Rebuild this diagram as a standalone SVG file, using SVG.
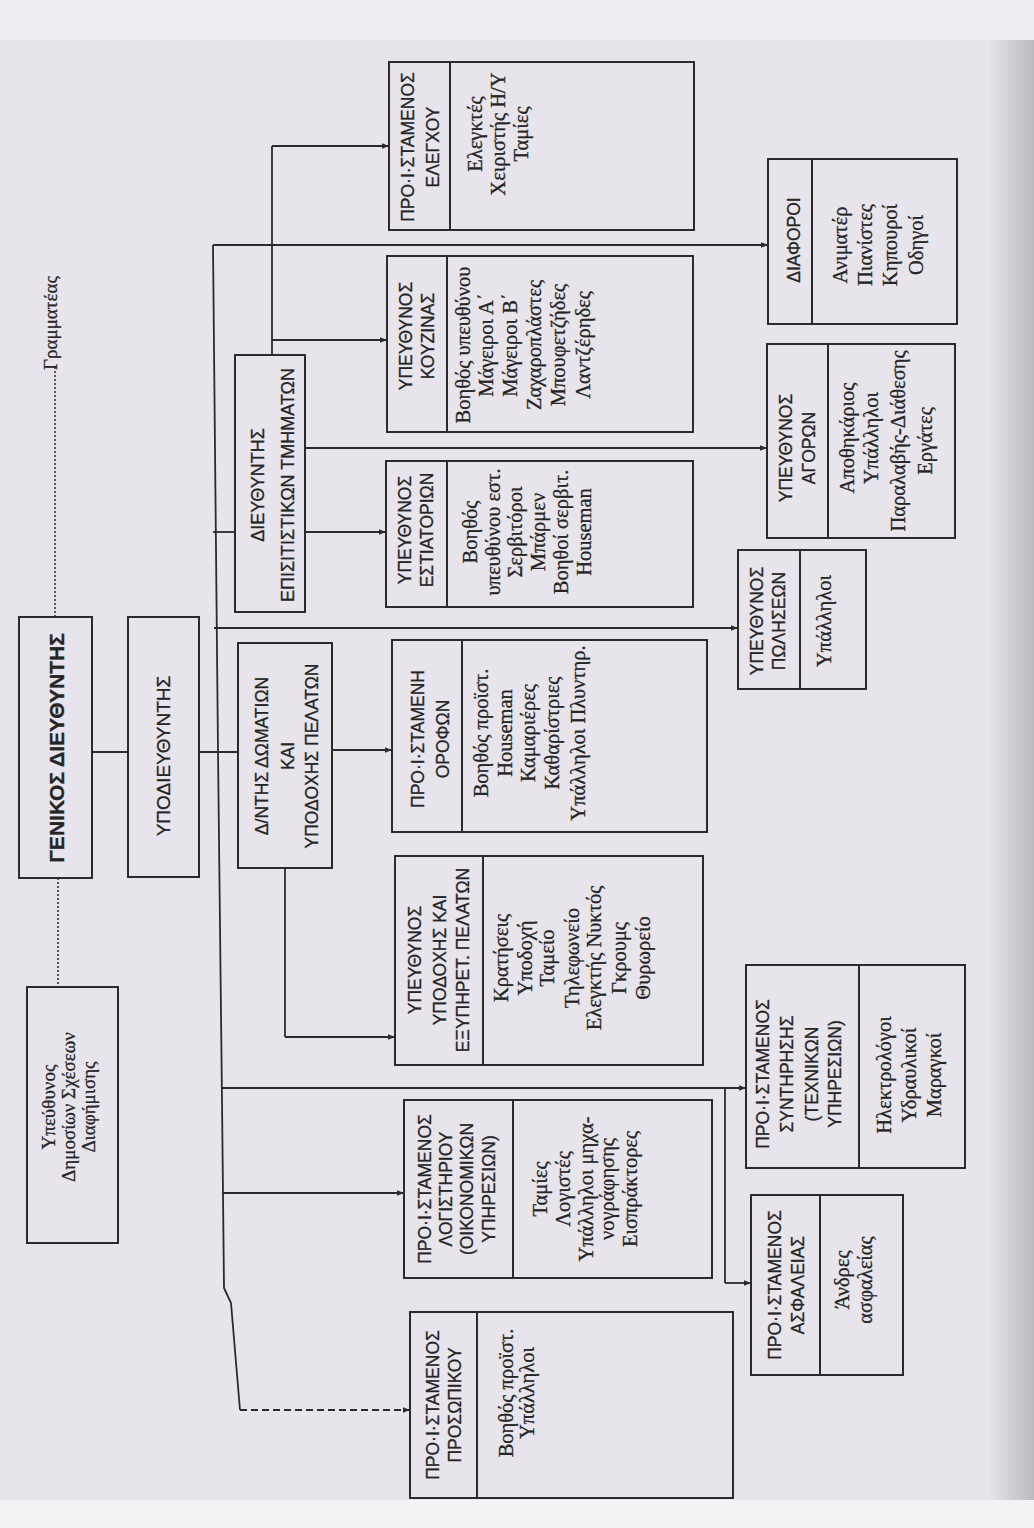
<svg xmlns="http://www.w3.org/2000/svg" width="1034" height="1528" viewBox="0 0 1034 1528">
<defs>
<marker id="ah" viewBox="0 0 10 10" refX="10" refY="5" markerWidth="9" markerHeight="7" orient="auto" markerUnits="userSpaceOnUse"><path d="M0,1 L10,5 L0,9 z" fill="#2b2b2b"/></marker>
<linearGradient id="edge" x1="0" y1="0" x2="1" y2="0"><stop offset="0" stop-color="#e6e2ea"/><stop offset="1" stop-color="#bdb9c0"/></linearGradient>
</defs>
<style>
.box{fill:none;stroke:#2b2b2b;stroke-width:2}
.div{stroke:#2b2b2b;stroke-width:2}
.h{font-family:"Liberation Sans",Arial,sans-serif;font-size:17.5px;fill:#252525;stroke:#252525;stroke-width:0.3;text-anchor:middle;dominant-baseline:central}
.b{font-family:"Liberation Serif","Times New Roman",serif;font-size:20.5px;fill:#252525;stroke:#252525;stroke-width:0.3;text-anchor:middle;dominant-baseline:central}
.c{fill:none;stroke:#2b2b2b;stroke-width:1.8}
.ca{fill:none;stroke:#2b2b2b;stroke-width:1.8;marker-end:url(#ah)}
.dot{fill:none;stroke:#333;stroke-width:1.6;stroke-dasharray:2 2}
.dash{fill:none;stroke:#2b2b2b;stroke-width:1.8;stroke-dasharray:7 4;marker-end:url(#ah)}
</style>
<rect x="0" y="0" width="1034" height="1528" fill="#e8e4ec"/>
<rect x="990" y="0" width="44" height="1528" fill="url(#edge)"/>
<rect x="0" y="0" width="1034" height="40" fill="#f1eef3"/>
<rect x="0" y="1500" width="1034" height="28" fill="#f4f2f5"/>

<g id="connectors">
  <path class="dot" d="M55,367 L55,617"/>
  <path class="dot" d="M58,878 L58,987"/>
  <path class="c" d="M92,752 L128,752"/>
  <path class="c" d="M199,752 L238,752"/>
  <path class="c" d="M213,245 L218,752 L222,1100 L224,1288 L231,1303 L240,1410"/>
  <path class="dash" d="M240,1410 L410,1410"/>
  <path class="ca" d="M213,245 L768,245"/>
  <path class="c" d="M213,532 L235,532"/>
  <path class="ca" d="M305,532 L386,532"/>
  <path class="c" d="M272,355 L272,146"/>
  <path class="ca" d="M272,146 L389,146"/>
  <path class="ca" d="M272,340 L387,340"/>
  <path class="ca" d="M305,448 L767,448"/>
  <path class="ca" d="M214,628 L738,628"/>
  <path class="ca" d="M332,750 L392,750"/>
  <path class="c" d="M285,868 L285,1037"/>
  <path class="ca" d="M285,1037 L395,1037"/>
  <path class="ca" d="M222,1088 L746,1088"/>
  <path class="c" d="M725,1088 L725,1283"/>
  <path class="ca" d="M725,1283 L751,1283"/>
  <path class="ca" d="M223,1193 L404,1193"/>
</g>

<g id="secretary">
  <text class="b" transform="translate(50,323) rotate(-90)" style="font-size:19px">Γραμματέας</text>
</g>

<g id="n-general" transform="translate(19,878) rotate(-90)">
  <rect class="box" x="0" y="0" width="261" height="73"/>
  <text class="h" x="130" y="37" style="font-size:21px;font-weight:bold">ΓΕΝΙΚΟΣ ΔΙΕΥΘΥΝΤΗΣ</text>
</g>

<g id="n-deputy" transform="translate(128,877) rotate(-90)">
  <rect class="box" x="0" y="0" width="260" height="71"/>
  <text class="h" x="121" y="35" style="font-size:19px">ΥΠΟΔΙΕΥΘΥΝΤΗΣ</text>
</g>

<g id="n-pr" transform="translate(27,1243) rotate(-90)">
  <rect class="box" x="0" y="0" width="256" height="91"/>
  <text class="b" x="136" y="21" style="font-size:19px">Υπεύθυνος</text>
  <text class="b" x="136" y="41" style="font-size:19px">Δημοσίων Σχέσεων</text>
  <text class="b" x="136" y="61" style="font-size:19px">Διαφήμισης</text>
</g>

<g id="n-fb" transform="translate(235,612) rotate(-90)">
  <rect class="box" x="0" y="0" width="257" height="70"/>
  <text class="h" x="127" y="23" style="font-size:18px">ΔΙΕΥΘΥΝΤΗΣ</text>
  <text class="h" x="127" y="53" style="font-size:18px">ΕΠΙΣΙΤΙΣΤΙΚΩΝ ΤΜΗΜΑΤΩΝ</text>
</g>

<g id="n-rooms" transform="translate(238,868) rotate(-90)">
  <rect class="box" x="0" y="0" width="225" height="94"/>
  <text class="h" x="112" y="24">Δ/ΝΤΗΣ ΔΩΜΑΤΙΩΝ</text>
  <text class="h" x="112" y="50">ΚΑΙ</text>
  <text class="h" x="112" y="74">ΥΠΟΔΟΧΗΣ ΠΕΛΑΤΩΝ</text>
</g>

<g id="n-control" transform="translate(389,230) rotate(-90)">
  <rect class="box" x="0" y="0" width="168" height="305"/>
  <line class="div" x1="0" y1="61" x2="168" y2="61"/>
  <text class="h" x="83" y="19">ΠΡΟ·Ι·ΣΤΑΜΕΝΟΣ</text>
  <text class="h" x="83" y="44">ΕΛΕΓΧΟΥ</text>
  <text class="b" x="96" y="86">Ελεγκτές</text>
  <text class="b" x="96" y="109">Χειριστής Η/Υ</text>
  <text class="b" x="96" y="132">Ταμίες</text>
</g>

<g id="n-kitchen" transform="translate(387,432) rotate(-90)">
  <rect class="box" x="0" y="0" width="176" height="306"/>
  <line class="div" x1="0" y1="60" x2="176" y2="60"/>
  <text class="h" x="96" y="19">ΥΠΕΥΘΥΝΟΣ</text>
  <text class="h" x="96" y="41">ΚΟΥΖΙΝΑΣ</text>
  <text class="b" x="87" y="76">Βοηθός υπευθύνου</text>
  <text class="b" x="87" y="99">Μάγειροι Α΄</text>
  <text class="b" x="87" y="123">Μάγειροι Β΄</text>
  <text class="b" x="87" y="147">Ζαχαροπλάστες</text>
  <text class="b" x="87" y="171">Μπουφετζήδες</text>
  <text class="b" x="87" y="196">Λαντζέρηδες</text>
</g>

<g id="n-restaurants" transform="translate(386,607) rotate(-90)">
  <rect class="box" x="0" y="0" width="146" height="307"/>
  <line class="div" x1="0" y1="61" x2="146" y2="61"/>
  <text class="h" x="77" y="19">ΥΠΕΥΘΥΝΟΣ</text>
  <text class="h" x="77" y="41">ΕΣΤΙΑΤΟΡΙΩΝ</text>
  <text class="b" x="75" y="84">Βοηθός</text>
  <text class="b" x="75" y="107">υπευθύνου εστ.</text>
  <text class="b" x="75" y="129">Σερβιτόροι</text>
  <text class="b" x="75" y="152">Μπάρμεν</text>
  <text class="b" x="75" y="175">Βοηθοί σερβιτ.</text>
  <text class="b" x="75" y="198">Houseman</text>
</g>

<g id="n-floors" transform="translate(392,832) rotate(-90)">
  <rect class="box" x="0" y="0" width="192" height="315"/>
  <line class="div" x1="0" y1="70" x2="192" y2="70"/>
  <text class="h" x="93" y="26">ΠΡΟ·Ι·ΣΤΑΜΕΝΗ</text>
  <text class="h" x="93" y="51">ΟΡΟΦΩΝ</text>
  <text class="b" x="99" y="89">Βοηθός προϊστ.</text>
  <text class="b" x="99" y="113">Houseman</text>
  <text class="b" x="99" y="136">Καμαριέρες</text>
  <text class="b" x="99" y="160">Καθαρίστριες</text>
  <text class="b" x="99" y="186">Υπάλληλοι Πλυντηρ.</text>
</g>

<g id="n-reception" transform="translate(395,1065) rotate(-90)">
  <rect class="box" x="0" y="0" width="209" height="308"/>
  <line class="div" x1="0" y1="88" x2="209" y2="88"/>
  <text class="h" x="105" y="20">ΥΠΕΥΘΥΝΟΣ</text>
  <text class="h" x="105" y="45">ΥΠΟΔΟΧΗΣ ΚΑΙ</text>
  <text class="h" x="105" y="68">ΕΞΥΠΗΡΕΤ. ΠΕΛΑΤΩΝ</text>
  <text class="b" x="107" y="106">Κρατήσεις</text>
  <text class="b" x="107" y="130">Υποδοχή</text>
  <text class="b" x="107" y="152">Ταμείο</text>
  <text class="b" x="107" y="177">Τηλεφωνείο</text>
  <text class="b" x="107" y="199">Ελεγκτής Νυκτός</text>
  <text class="b" x="107" y="224">Γκρουμς</text>
  <text class="b" x="107" y="248">Θυρωρείο</text>
</g>

<g id="n-accounting" transform="translate(404,1278) rotate(-90)">
  <rect class="box" x="0" y="0" width="178" height="308"/>
  <line class="div" x1="0" y1="109" x2="178" y2="109"/>
  <text class="h" x="89" y="21">ΠΡΟ·Ι·ΣΤΑΜΕΝΟΣ</text>
  <text class="h" x="89" y="42">ΛΟΓΙΣΤΗΡΙΟΥ</text>
  <text class="h" x="89" y="63">(ΟΙΚΟΝΟΜΙΚΩΝ</text>
  <text class="h" x="89" y="85">ΥΠΗΡΕΣΙΩΝ)</text>
  <text class="b" x="89" y="136">Ταμίες</text>
  <text class="b" x="89" y="159">Λογιστές</text>
  <text class="b" x="89" y="182">Υπάλληλοι μηχα-</text>
  <text class="b" x="89" y="203">νογράφησης</text>
  <text class="b" x="89" y="226">Εισπράκτορες</text>
</g>

<g id="n-personnel" transform="translate(410,1498) rotate(-90)">
  <rect class="box" x="0" y="0" width="186" height="323"/>
  <line class="div" x1="0" y1="67" x2="186" y2="67"/>
  <text class="h" x="93" y="23">ΠΡΟ·Ι·ΣΤΑΜΕΝΟΣ</text>
  <text class="h" x="93" y="45">ΠΡΟΣΩΠΙΚΟΥ</text>
  <text class="b" x="105" y="96">Βοηθός προϊστ.</text>
  <text class="b" x="105" y="117">Υπάλληλοι</text>
</g>

<g id="n-maintenance" transform="translate(746,1168) rotate(-90)">
  <rect class="box" x="0" y="0" width="203" height="219"/>
  <line class="div" x1="0" y1="113" x2="203" y2="113"/>
  <text class="h" x="94" y="17">ΠΡΟ·Ι·ΣΤΑΜΕΝΟΣ</text>
  <text class="h" x="94" y="41">ΣΥΝΤΗΡΗΣΗΣ</text>
  <text class="h" x="94" y="66">(ΤΕΧΝΙΚΩΝ</text>
  <text class="h" x="94" y="89">ΥΠΗΡΕΣΙΩΝ)</text>
  <text class="b" x="93" y="138">Ηλεκτρολόγοι</text>
  <text class="b" x="93" y="163">Υδραυλικοί</text>
  <text class="b" x="93" y="188">Μαραγκοί</text>
</g>

<g id="n-security" transform="translate(751,1375) rotate(-90)">
  <rect class="box" x="0" y="0" width="180" height="152"/>
  <line class="div" x1="0" y1="69" x2="180" y2="69"/>
  <text class="h" x="90" y="24">ΠΡΟ·Ι·ΣΤΑΜΕΝΟΣ</text>
  <text class="h" x="90" y="47">ΑΣΦΑΛΕΙΑΣ</text>
  <text class="b" x="95" y="91">Άνδρες</text>
  <text class="b" x="95" y="114">ασφαλείας</text>
</g>

<g id="n-sales" transform="translate(738,689) rotate(-90)">
  <rect class="box" x="0" y="0" width="139" height="128"/>
  <line class="div" x1="0" y1="62" x2="139" y2="62"/>
  <text class="h" x="68" y="19">ΥΠΕΥΘΥΝΟΣ</text>
  <text class="h" x="68" y="41">ΠΩΛΗΣΕΩΝ</text>
  <text class="b" x="68" y="86">Υπάλληλοι</text>
</g>

<g id="n-purchasing" transform="translate(767,538) rotate(-90)">
  <rect class="box" x="0" y="0" width="194" height="188"/>
  <line class="div" x1="0" y1="61" x2="194" y2="61"/>
  <text class="h" x="90" y="19">ΥΠΕΥΘΥΝΟΣ</text>
  <text class="h" x="90" y="42">ΑΓΟΡΩΝ</text>
  <text class="b" x="100" y="80">Αποθηκάριος</text>
  <text class="b" x="100" y="104">Υπάλληλοι</text>
  <text class="b" x="97" y="131">Παραλαβής-Διάθεσης</text>
  <text class="b" x="97" y="158">Εργάτες</text>
</g>

<g id="n-misc" transform="translate(768,324) rotate(-90)">
  <rect class="box" x="0" y="0" width="165" height="189"/>
  <line class="div" x1="0" y1="44" x2="165" y2="44"/>
  <text class="h" x="84" y="26">ΔΙΑΦΟΡΟΙ</text>
  <text class="b" x="79" y="72">Ανιματέρ</text>
  <text class="b" x="79" y="97">Πιανίστες</text>
  <text class="b" x="79" y="122">Κηπουροί</text>
  <text class="b" x="79" y="148">Οδηγοί</text>
</g>
</svg>
